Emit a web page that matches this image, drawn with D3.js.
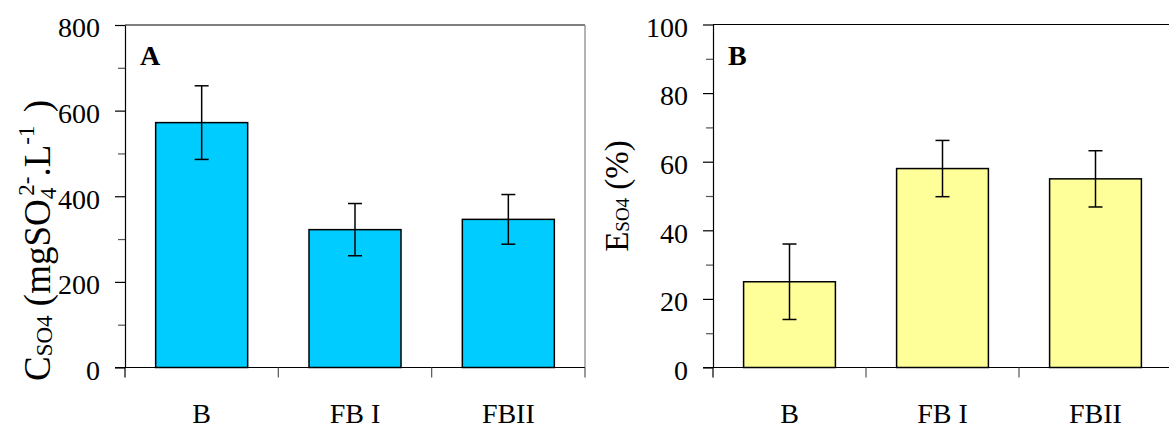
<!DOCTYPE html>
<html>
<head>
<meta charset="utf-8">
<script src="https://cdn.jsdelivr.net/npm/d3@7"></script>
<style>
  html, body { margin: 0; padding: 0; background: #fff; }
  svg { display: block; }
  text { font-family: "Liberation Serif", "Times New Roman", serif; fill: #000; }
</style>
</head>
<body>
<svg id="chart" width="1169" height="429"></svg>
<script>
// ---- data ----
const categories = ["B", "FB I", "FBII"];
const concValues = [572, 322, 346];       // C_SO4 (mgSO4 2- .L-1)
const concErrors = [86, 61, 58];
const effValues = [25, 58, 55];           // E_SO4 (%)
const effErrors = [11, 8.2, 8.2];
const concTicks = [0, 200, 400, 600, 800];
const concMinor = [100, 300, 500, 700];
const effTicks = [0, 20, 40, 60, 80, 100];
const effMinor = [10, 30, 50, 70, 90];

const svg = d3.select("#chart");

function panel(opts) {
  const { left, right, top, bottom, yMax, values, errors, ticks, minor, fill, letter, showRight } = opts;
  const g = svg.append("g");
  const x = d3.scaleBand().domain(categories).range([left, right]).paddingInner(0.4).paddingOuter(0.2);
  const xb = d3.scaleBand().domain(categories).range([left, right]).padding(0);
  const y = d3.scaleLinear().domain([0, yMax]).range([bottom, top]);

  // frame: top border
  g.append("line").attr("x1", left).attr("x2", right).attr("y1", top).attr("y2", top)
    .attr("stroke", "#000").attr("stroke-width", 1.2);
  if (showRight) {
    g.append("line").attr("x1", right).attr("x2", right).attr("y1", top).attr("y2", bottom)
      .attr("stroke", "#808080").attr("stroke-width", 1.2);
  }

  // bars
  g.selectAll("rect.bar").data(categories).join("rect")
    .attr("class", "bar")
    .attr("x", d => x(d))
    .attr("width", x.bandwidth())
    .attr("y", (d, i) => y(values[i]))
    .attr("height", (d, i) => y(0) - y(values[i]))
    .attr("fill", fill).attr("stroke", "#000").attr("stroke-width", 1.5);

  // error bars
  const cx = d => x(d) + x.bandwidth() / 2;
  const cap = 7;
  const eb = g.selectAll("g.err").data(categories).join("g").attr("class", "err")
    .attr("stroke", "#000").attr("stroke-width", 1.5);
  eb.append("line").attr("x1", cx).attr("x2", cx)
    .attr("y1", (d, i) => y(values[i] + errors[i])).attr("y2", (d, i) => y(values[i] - errors[i]));
  eb.append("line").attr("x1", d => cx(d) - cap).attr("x2", d => cx(d) + cap)
    .attr("y1", (d, i) => y(values[i] + errors[i])).attr("y2", (d, i) => y(values[i] + errors[i]));
  eb.append("line").attr("x1", d => cx(d) - cap).attr("x2", d => cx(d) + cap)
    .attr("y1", (d, i) => y(values[i] - errors[i])).attr("y2", (d, i) => y(values[i] - errors[i]));

  // y axis minor ticks
  const yMinorAxis = d3.axisLeft(y).tickValues(minor).tickSize(7).tickFormat("").tickSizeOuter(0);
  const gm = g.append("g").attr("transform", `translate(${left},0)`).call(yMinorAxis);
  gm.select(".domain").remove();
  gm.selectAll("line").attr("stroke", "#555").attr("stroke-width", 1.2);

  // y axis major
  const yAxis = d3.axisLeft(y).tickValues(ticks).tickSize(10).tickPadding(15).tickSizeOuter(0);
  const ga = g.append("g").attr("transform", `translate(${left},0)`).call(yAxis);
  ga.select(".domain").attr("stroke", "#000").attr("stroke-width", 1.2);
  ga.selectAll("line").attr("stroke", "#000").attr("stroke-width", 1.2);
  ga.selectAll("text").attr("font-size", 28).attr("dy", "0.42em")
    .attr("font-family", "'Liberation Serif', 'Times New Roman', serif").attr("fill", "#000");

  // x axis baseline + boundary ticks
  g.append("line").attr("x1", left - 10).attr("x2", right).attr("y1", bottom).attr("y2", bottom)
    .attr("stroke", "#000").attr("stroke-width", 1.2);
  const bounds = categories.map(d => xb(d)).concat([right]);
  g.selectAll("line.xt").data(bounds).join("line").attr("class", "xt")
    .attr("x1", d => d).attr("x2", d => d).attr("y1", bottom).attr("y2", bottom + 10)
    .attr("stroke", (d, i) => i === 0 ? "#000" : "#555").attr("stroke-width", 1.2);

  // category labels
  g.selectAll("text.cat").data(categories).join("text").attr("class", "cat")
    .attr("x", d => x(d) + x.bandwidth() / 2).attr("y", 423)
    .attr("text-anchor", "middle").attr("font-size", 28).text(d => d);

  // panel letter
  g.append("text").attr("x", left + 15).attr("y", 65).attr("font-size", 28)
    .attr("font-weight", "bold").text(letter);
  return g;
}

panel({ left: 125, right: 585, top: 25, bottom: 367.5, yMax: 800,
  values: concValues, errors: concErrors, ticks: concTicks, minor: concMinor,
  fill: "#00CCFF", letter: "A", showRight: true });

panel({ left: 713, right: 1172, top: 24.5, bottom: 367.5, yMax: 100,
  values: effValues, errors: effErrors, ticks: effTicks, minor: effMinor,
  fill: "#FFFF99", letter: "B", showRight: false });

// y axis title A
const tA = svg.append("text").attr("transform", "translate(50,381) rotate(-90)")
  .attr("font-size", 37).attr("text-anchor", "start");
tA.append("tspan").text("C");
tA.append("tspan").attr("font-size", 23).attr("dy", 2).text("SO4");
tA.append("tspan").attr("dy", -2).text(" (mgSO");
tA.append("tspan").attr("font-size", 23).attr("dy", 6).text("4");
tA.append("tspan").attr("font-size", 23).attr("dx", -8).attr("dy", -22).text("2-");
tA.append("tspan").attr("dy", 16).text(".L");
tA.append("tspan").attr("font-size", 23).attr("dy", -16).text("-1");
tA.append("tspan").attr("dx", 4).attr("dy", 16).text(" )");

// y axis title B
const tB = svg.append("text").attr("transform", "translate(628,196) rotate(-90)")
  .attr("font-size", 33).attr("text-anchor", "middle");
tB.append("tspan").text("E");
tB.append("tspan").attr("font-size", 19).attr("dy", 1).text("SO4");
tB.append("tspan").attr("dy", -1).text(" (%)");
</script>
</body>
</html>
